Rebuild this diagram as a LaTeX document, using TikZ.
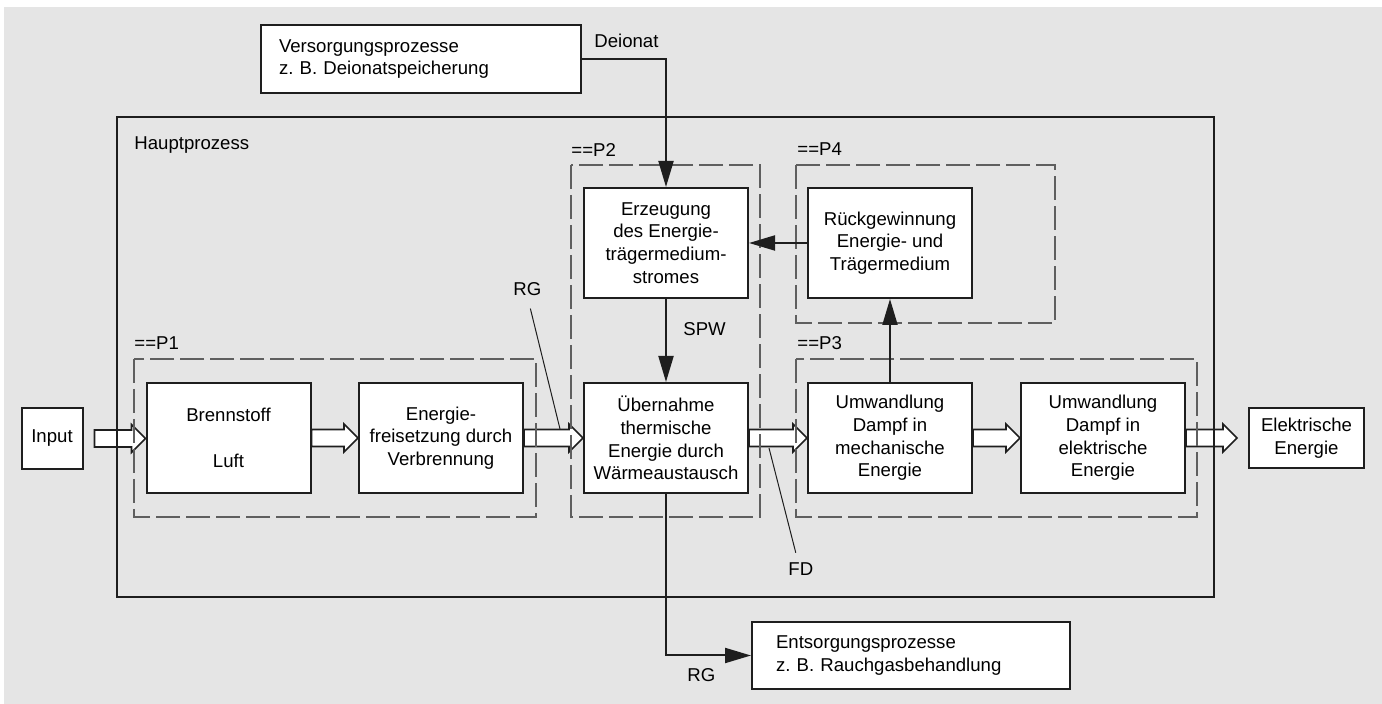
\documentclass[tikz,border=0pt]{standalone}
\usepackage{fontspec}
\setmainfont{Liberation Sans}
\usepackage{tikz}
\usetikzlibrary{positioning,calc,arrows.meta}
\definecolor{bggray}{RGB}{229,229,229}
\definecolor{linecol}{RGB}{30,30,30}
\definecolor{dashcol}{RGB}{95,95,95}
\frenchspacing

\tikzset{
  box/.style={draw=linecol, fill=white, line width=1pt, align=center, inner sep=0pt,
    minimum width=82pt, minimum height=55pt},
  frame/.style={draw=dashcol, line width=1pt, dash pattern=on 12pt off 3pt},
  lbl/.style={inner sep=0pt, anchor=base west},
  flow/.style={draw=linecol, line width=1pt, -{Triangle[length=13pt,width=7.5pt]}},
  leader/.style={draw=linecol, line width=0.5pt},
  hollow/.style={draw=linecol, fill=white, line width=0.8pt, line join=miter,
    to path={let \p1=(\tikztostart), \p2=(\tikztotarget) in
      (\x1,\y1+4.25pt) -- (\x2-7pt,\y1+4.25pt) -- (\x2-7pt,\y1+7pt) -- (\x2,\y1)
      -- (\x2-7pt,\y1-7pt) -- (\x2-7pt,\y1-4.25pt) -- (\x1,\y1-4.25pt) -- cycle}},
}

\begin{document}
\begin{tikzpicture}[x=0.5pt, y=-0.5pt, font=\fontsize{9.3pt}{11.35pt}\selectfont]
    \useasboundingbox (0,0) rectangle (1382,704);
    \fill[bggray] (4,7) rectangle (1382,704);

    % Boxes
    \node[box, align=left, text width=142pt, inner xsep=9pt, minimum width=160pt, minimum height=34pt] (vers) at (421,59) {Versorgungsprozesse\\z. B. Deionatspeicherung};
    \node[box, minimum width=30.5pt, minimum height=30.5pt] (inp) at (52,438.5) {Input};
    \node[box] (brenn) at (228.5,438) {Brennstoff\\[11.35pt]Luft};
    \node[box] (freis) at (441,438) {Energie-\\freisetzung durch\\Verbrennung};
    \node[box] (erz) at (666,243) {Erzeugung\\des Energie-\\trägermedium-\\stromes};
    \node[box] (ueber) at (666,438) {Übernahme\\thermische\\Energie durch\\Wärmeaustausch};
    \node[box] (rueck) at (890,243) {Rückgewinnung\\Energie- und\\Trägermedium};
    \node[box] (umwm) at (890,438) {Umwandlung\\Dampf in\\mechanische\\Energie};
    \node[box] (umwe) at (1103,438) {Umwandlung\\Dampf in\\elektrische\\Energie};
    \node[box, minimum width=57.5pt, minimum height=30pt] (elek) at (1306.5,438) {Elektrische\\Energie};
    \node[box, align=left, text width=135pt, inner xsep=12pt, minimum width=159pt, minimum height=33.5pt] (ents) at (911,655.5) {Entsorgungsprozesse\\z. B. Rauchgasbehandlung};

    % Energy flow
    \draw[hollow] ([xshift=5.5pt]inp.east) to (brenn.west);
    \draw[hollow] (brenn.east) to (freis.west);
    \draw[hollow] (freis.east) to (ueber.west);
    \draw[hollow] (ueber.east) to (umwm.west);
    \draw[hollow] (umwm.east) to (umwe.west);
    \draw[hollow] (umwe.east) to ([xshift=-5.5pt]elek.west);

    % Process frames
    \draw[draw=linecol, line width=1pt] (117,117) rectangle (1214,597);
    \draw[frame] (134,359) rectangle (536,517);
    \draw[frame] (571,165) rectangle (760,517);
    \draw[frame] (796,165) rectangle (1055,323);
    \draw[frame] (796,359) rectangle (1197,517);

    % Labels
    \node[lbl] (haupt) at (134,150) {Hauptprozess};
    \node[lbl] (pone) at (134,350) {==P1};
    \node[lbl] (ptwo) at (571,157) {==P2};
    \node[lbl] (pfour) at (797,156) {==P4};
    \node[lbl] (pthree) at (797,350) {==P3};
    \node[lbl] (deion) at (594,48) {Deionat};
    \node[lbl] (spw) at (683,336) {SPW};
    \node[lbl] (rgtop) at (513,296) {RG};
    \node[lbl] (fd) at (788,576) {FD};
    \node[lbl] (rgbot) at (687,682) {RG};

    % Media flow
    \draw[flow] (vers.east) -| (erz.north);
    \draw[flow] (erz.south) -- (ueber.north);
    \draw[flow] (rueck.west) -- (erz.east);
    \draw[flow] (umwm.north) -- (rueck.south);
    \draw[flow] (ueber.south) |- (ents.west);

    % Leaders
    \coordinate (rgpt) at (560,429);
    \coordinate (fdpt) at (769,448);
    \draw[leader] ([shift={(3,12)}]rgtop.south) -- (rgpt);
    \draw[leader] (fdpt) -- ([shift={(-5,-10)}]fd.north);
\end{tikzpicture}
\end{document}
